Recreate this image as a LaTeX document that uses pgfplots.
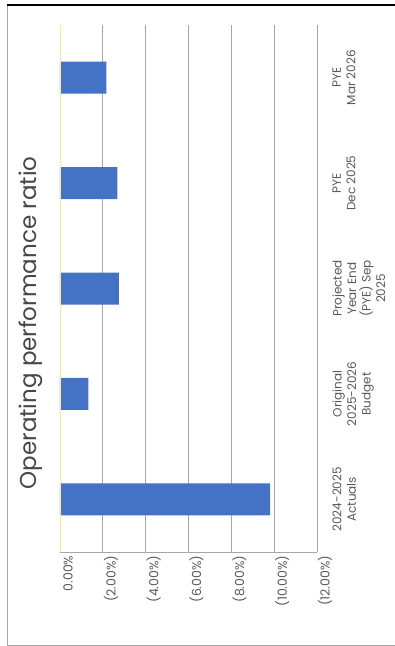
\documentclass[border=0pt]{standalone}
\usepackage{fontspec}
\setmainfont{Poppins}
\usepackage{pgfplots}
\pgfplotsset{compat=1.18}
\definecolor{barblue}{HTML}{4472C4}
\definecolor{txt}{HTML}{595959}
\definecolor{grd}{HTML}{A6A6A6}
\begin{document}
\begin{tikzpicture}[x=1pt,y=1pt]
\useasboundingbox (0,0) rectangle (395,646);
\draw[grd, line width=1pt] (7,0.5) -- (395,0.5);
\draw[grd, line width=1pt] (7,0.5) -- (7,641);
\draw[black, line width=1.5pt] (7,641) -- (395,641);
\node[rotate=90, text=txt!80!black, font=\fontsize{23}{26}\selectfont] at (31,323) {Operating performance ratio};
\begin{axis}[
  at={(60pt,94pt)}, anchor=south west,
  scale only axis, width=257pt, height=527pt,
  xbar, bar width=32pt,
  x dir=reverse,
  xmin=-12, xmax=0, ymin=-0.5, ymax=4.5,
  xtick={-12,-10,-8,-6,-4,-2,0},
  xticklabels={(12.00\%),(10.00\%),(8.00\%),(6.00\%),(4.00\%),(2.00\%),0.00\%},
  ytick={0,1,2,3,4},
  yticklabels={2024-2025\\Actuals, Original\\2025-2026\\Budget, Projected\\Year End\\(PYE) Sep\\2025, PYE\\Dec 2025, PYE\\Mar 2026},
  yticklabel pos=right,
  xticklabel style={rotate=90, anchor=east, text=txt, font=\fontsize{12.5}{14}\selectfont, yshift=-8pt},
  yticklabel style={rotate=90, anchor=north, align=center, text=txt, font=\fontsize{12}{14.5}\selectfont, yshift=-12pt},
  xmajorgrids, grid style={grd, line width=0.8pt},
  major tick length=0pt,
  axis line style={draw=none},
  clip=false,
]
\addplot[fill=barblue, draw=none] coordinates {(-9.81,0) (-1.32,1) (-2.75,2) (-2.68,3) (-2.17,4)};
\draw[grd, line width=0.8pt] (axis cs:0,-0.5) -- (axis cs:-12,-0.5);
\draw[yellow!60!orange!40, line width=0.6pt] (axis cs:0,-0.5) -- (axis cs:0,4.5);
\end{axis}
\end{tikzpicture}
\end{document}
